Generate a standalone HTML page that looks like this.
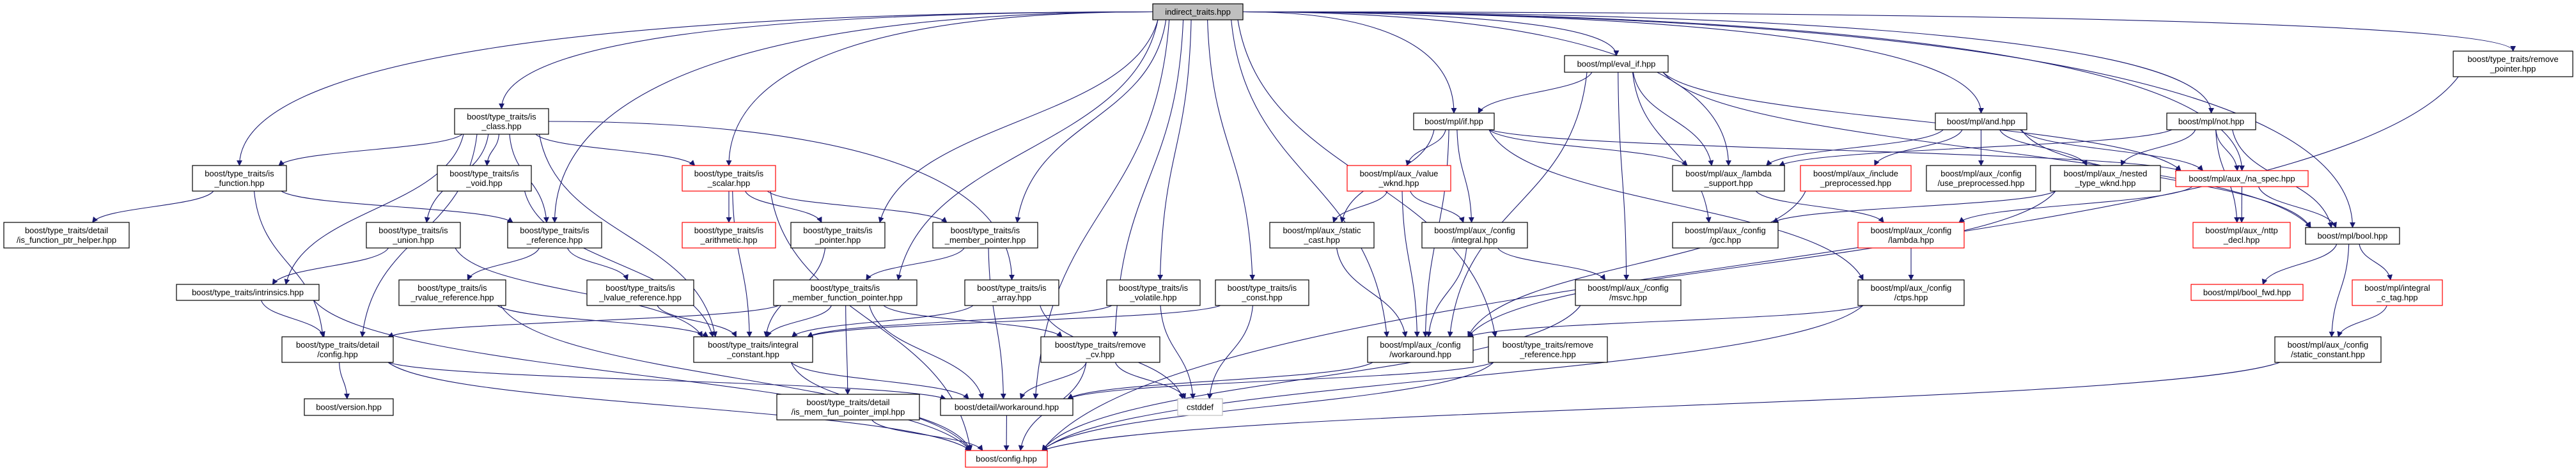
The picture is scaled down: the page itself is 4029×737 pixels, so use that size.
<!DOCTYPE html>
<html><head><meta charset="utf-8"><style>
html,body{margin:0;padding:0;background:#fff;}
svg{display:block}
text{font-family:"Liberation Sans",sans-serif;font-size:13px;fill:#000}
</style></head><body>
<svg id="g" width="4029" height="737" viewBox="0 0 4029 737" xmlns="http://www.w3.org/2000/svg">
<defs><marker id="a" viewBox="0 0 10 10" refX="9" refY="5" markerWidth="9" markerHeight="9" orient="auto" markerUnits="userSpaceOnUse"><path d="M0,0 L10,5 L0,10 z" fill="#191970"/></marker></defs>
<g id="E" fill="none" stroke="#191970" stroke-width="1.1"></g>
<g id="N"></g>
</svg>
<script>
var N={
it:[1803,6,1944,31,"g",["indirect_traits.hpp"]],
cls:[711,170,858,210,"k",["boost/type_traits/is","_class.hpp"]],
fn:[301,259,448,299,"k",["boost/type_traits/is","_function.hpp"]],
fph:[6,348,202,388,"k",["boost/type_traits/detail","/is_function_ptr_helper.hpp"]],
vd:[684,259,831,299,"k",["boost/type_traits/is","_void.hpp"]],
un:[573,348,720,388,"k",["boost/type_traits/is","_union.hpp"]],
ref:[794,348,941,388,"k",["boost/type_traits/is","_reference.hpp"]],
intr:[276,445,499,470,"k",["boost/type_traits/intrinsics.hpp"]],
rv:[624,438,791,478,"k",["boost/type_traits/is","_rvalue_reference.hpp"]],
lv:[918,438,1085,478,"k",["boost/type_traits/is","_lvalue_reference.hpp"]],
dc:[441,527,615,567,"k",["boost/type_traits/detail","/config.hpp"]],
ver:[476,624,615,650,"k",["boost/version.hpp"]],
sc:[1067,259,1213,299,"r",["boost/type_traits/is","_scalar.hpp"]],
ar:[1067,348,1213,388,"r",["boost/type_traits/is","_arithmetic.hpp"]],
ptr:[1237,348,1384,388,"k",["boost/type_traits/is","_pointer.hpp"]],
mp:[1459,348,1623,388,"k",["boost/type_traits/is","_member_pointer.hpp"]],
mfp:[1210,438,1434,478,"k",["boost/type_traits/is","_member_function_pointer.hpp"]],
arr:[1509,438,1656,478,"k",["boost/type_traits/is","_array.hpp"]],
vol:[1731,438,1877,478,"k",["boost/type_traits/is","_volatile.hpp"]],
cst:[1901,438,2047,478,"k",["boost/type_traits/is","_const.hpp"]],
ic:[1085,527,1271,567,"k",["boost/type_traits/integral","_constant.hpp"]],
rcv:[1628,527,1814,567,"k",["boost/type_traits/remove","_cv.hpp"]],
mfi:[1215,617,1438,657,"k",["boost/type_traits/detail","/is_mem_fun_pointer_impl.hpp"]],
dw:[1471,624,1678,650,"k",["boost/detail/workaround.hpp"]],
cd:[1842,624,1912,650,"l",["cstddef"]],
cfg:[1510,705,1638,731,"r",["boost/config.hpp"]],
scast:[1986,348,2149,388,"k",["boost/mpl/aux_/static","_cast.hpp"]],
ev:[2447,87,2609,113,"k",["boost/mpl/eval_if.hpp"]],
iff:[2211,177,2337,203,"k",["boost/mpl/if.hpp"]],
vw:[2107,259,2269,299,"r",["boost/mpl/aux_/value","_wknd.hpp"]],
cint:[2224,348,2389,388,"k",["boost/mpl/aux_/config","/integral.hpp"]],
ls:[2616,259,2791,299,"k",["boost/mpl/aux_/lambda","_support.hpp"]],
ip:[2816,259,2989,299,"r",["boost/mpl/aux_/include","_preprocessed.hpp"]],
gcc:[2616,348,2781,388,"k",["boost/mpl/aux_/config","/gcc.hpp"]],
lam:[2906,348,3072,388,"r",["boost/mpl/aux_/config","/lambda.hpp"]],
msvc:[2464,438,2629,478,"k",["boost/mpl/aux_/config","/msvc.hpp"]],
ctps:[2906,438,3072,478,"k",["boost/mpl/aux_/config","/ctps.hpp"]],
cw:[2139,527,2304,567,"k",["boost/mpl/aux_/config","/workaround.hpp"]],
rr:[2328,527,2514,567,"k",["boost/type_traits/remove","_reference.hpp"]],
and:[3027,177,3170,203,"k",["boost/mpl/and.hpp"]],
up:[3013,259,3184,299,"k",["boost/mpl/aux_/config","/use_preprocessed.hpp"]],
ntw:[3207,259,3379,299,"k",["boost/mpl/aux_/nested","_type_wknd.hpp"]],
na:[3403,267,3610,292,"r",["boost/mpl/aux_/na_spec.hpp"]],
not:[3389,177,3528,203,"k",["boost/mpl/not.hpp"]],
nt:[3430,348,3582,388,"r",["boost/mpl/aux_/nttp","_decl.hpp"]],
bool:[3606,356,3753,382,"k",["boost/mpl/bool.hpp"]],
bf:[3427,445,3602,470,"r",["boost/mpl/bool_fwd.hpp"]],
ict:[3679,438,3820,478,"r",["boost/mpl/integral","_c_tag.hpp"]],
sct:[3558,527,3724,567,"k",["boost/mpl/aux_/config","/static_constant.hpp"]],
rp:[3837,80,4024,120,"k",["boost/type_traits/remove","_pointer.hpp"]]
};
var E="it cls,it fn,it ref,it ptr,it mp,it mfp,it vol,it cst,it rcv,it dw,it cw,it ev,it iff,it and,it not,it ls,it na,it bool,it rp,it rr,it sc,"+
"cls fn,cls intr,cls dc,cls un,cls vd,cls ref,cls sc,cls ic,cls arr,fn fph,fn dc,fn ref,vd ic,un intr,un ic,ref rv,ref lv,intr dc,intr cfg,rv ic,rv cfg,lv ic,"+
"dc ver,dc cfg,dc dw,sc ar,sc ptr,sc mp,sc cfg,sc ic,ptr ic,mp mfp,mp dw,mfp dc,mfp ic,mfp mfi,mfp dw,mfp rcv,arr ic,arr cd,vol ic,vol cd,cst ic,cst cd,"+
"ic cfg,ic dw,rcv dw,rcv cd,rcv cfg,mfi cfg,dw cfg,ev iff,ev ls,ev gcc,ev msvc,ev cw,ev na,ev bool,iff vw,iff scast,iff cint,iff ls,iff ctps,iff cw,iff na,"+
"vw scast,vw cint,vw cw,scast cw,cint msvc,cint cw,ls lam,ip cw,lam ctps,ctps cw,ctps cfg,msvc cfg,cw dw,rr dw,rr cfg,and ls,and ip,and up,and ntw,and na,and bool,"+
"not ntw,not na,not nt,not bool,not ls,ntw gcc,ntw cw,na nt,na bool,na lam,bool bf,bool ict,bool sct,ict sct,sct cfg,rp cfg";
var ns="http://www.w3.org/2000/svg",Eg=document.getElementById("E"),Ng=document.getElementById("N");
E.split(",").forEach(function(p){var q=p.split(" "),s=N[q[0]],t=N[q[1]];
 var sx=(s[0]+s[2])/2,tx=(t[0]+t[2])/2,d;
 if(t[1]>=s[3]-2){var sy=s[3],ty=t[1],h=ty-sy;
  if((q[0]=="it"||p=="cls arr")&&Math.abs(tx-sx)>2*h+(s[2]-s[0])/2){
   var a=tx>sx?s[2]:s[0],my=(s[1]+s[3])/2;
   d="M"+a+","+my+" C"+(a+(tx-a)*0.6)+","+my+" "+tx+","+(my+(ty-my)*0.3)+" "+tx+","+ty;
  } else {
  var sxa=sx+Math.max(-(s[2]-s[0])/2+8,Math.min((s[2]-s[0])/2-8,(tx-sx)*0.15));
  var txa=tx+Math.max(-(t[2]-t[0])/2+8,Math.min((t[2]-t[0])/2-8,(sx-tx)*0.15));
  d="M"+sxa+","+sy+" C"+(sxa+(txa-sxa)*0.1)+","+(sy+h*0.5)+" "+(txa-(txa-sxa)*0.1)+","+(ty-h*0.5)+" "+txa+","+ty;}}
 else{var sy=(s[1]+s[3])/2,ty=(t[1]+t[3])/2,a=tx>sx?s[2]:s[0],b=tx>sx?t[0]:t[2];
  d="M"+a+","+sy+" C"+((a+b)/2)+","+sy+" "+((a+b)/2)+","+ty+" "+b+","+ty;}
 var e=document.createElementNS(ns,"path");e.setAttribute("d",d);e.setAttribute("marker-end","url(#a)");Eg.appendChild(e);});
for(var k in N){var n=N[k],r=document.createElementNS(ns,"rect");
 r.setAttribute("x",n[0]);r.setAttribute("y",n[1]);r.setAttribute("width",n[2]-n[0]);r.setAttribute("height",n[3]-n[1]);
 r.setAttribute("fill",n[4]=="g"?"#bfbfbf":"#fff");r.setAttribute("stroke",n[4]=="r"?"#ff0000":n[4]=="l"?"#bfbfbf":"#000");r.setAttribute("stroke-width","1.2");Ng.appendChild(r);
 var cx=(n[0]+n[2])/2,cy=(n[1]+n[3])/2,L=n[5];
 L.forEach(function(s,i){var t=document.createElementNS(ns,"text");t.setAttribute("x",cx);t.setAttribute("y",cy+4.5+(i-(L.length-1)/2)*15);t.setAttribute("text-anchor","middle");t.textContent=s;Ng.appendChild(t);});}
</script>
</body></html>
